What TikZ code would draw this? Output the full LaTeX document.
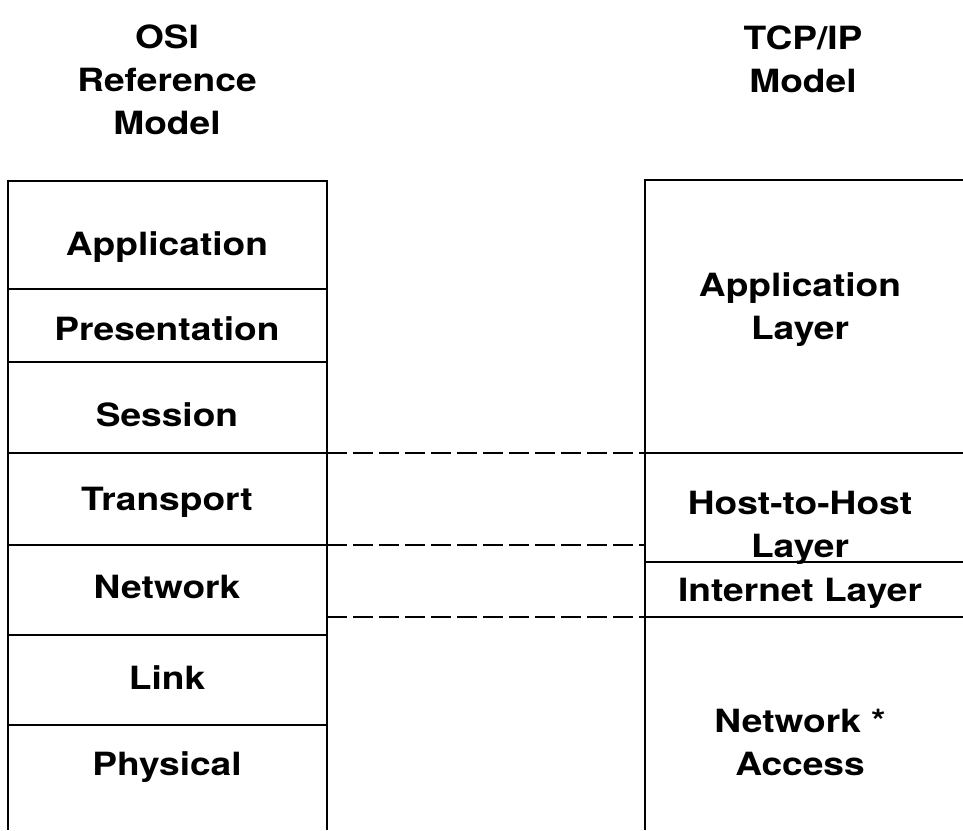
\documentclass[tikz,border=0pt]{standalone}
\usepackage{fontspec}
\usepackage{tikz}
\newfontfamily\layerfont{TeX Gyre Heros}[FakeStretch=1.16]

\begin{document}
\begin{tikzpicture}[x=1pt,y=-1pt]
\tikzstyle{layer}=[font=\layerfont\bfseries\fontsize{32}{43}\selectfont,align=center,anchor=base,inner sep=0pt]
\tikzstyle{rule}=[line width=1.8pt]
\tikzstyle{map}=[line width=1.8pt,dash pattern=on 20pt off 6pt]
\useasboundingbox (0,0) rectangle (963,830);
% headings
\node[layer] (osi) at (167,134) {OSI\\Reference\\Model};
\node[layer] (tcpip) at (803,92) {TCP/IP\\Model};
% OSI stack
\draw[rule] (8,830) -- (8,181) -- (327,181) -- (327,830);
\foreach \y in {289,362,453,545,635,725}
  \draw[rule] (8,\y) -- (327,\y);
\node[layer] (app) at (167,255) {Application};
\node[layer] (pres) at (167,340) {Presentation};
\node[layer] (sess) at (167,426) {Session};
\node[layer] (trans) at (167,510) {Transport};
\node[layer] (net) at (167,598) {Network};
\node[layer] (link) at (167,689) {Link};
\node[layer] (phys) at (167,775) {Physical};
% TCP/IP stack
\draw[rule] (645,830) -- (645,180) -- (963,180);
\foreach \y in {453,562,617}
  \draw[rule] (645,\y) -- (963,\y);
\node[layer] (tapp) at (800,339) {Application\\Layer};
\node[layer] (host) at (800,557) {Host-to-Host\\Layer};
\node[layer] (inet) at (800,601) {Internet Layer};
\node[layer] (acc) at (800,775) {Network *\\Access};
% layer boundaries
\coordinate (o1) at (327,453);
\coordinate (o2) at (327,545);
\coordinate (o3) at (327,617);
\coordinate (t1) at (645,453);
\coordinate (t2) at (645,545);
\coordinate (t3) at (645,617);
\draw[map] (o1) -- (t1);
\draw[map] (o2) -- (t2);
\draw[map] (o3) -- (t3);
\end{tikzpicture}
\end{document}
